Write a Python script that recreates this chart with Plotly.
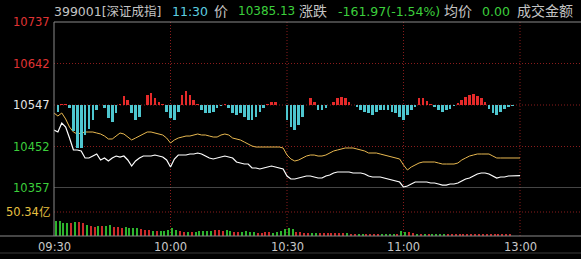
import plotly.graph_objects as go

# ---------------- data ----------------
prev_close = 10547
price_ticks = [10737, 10642, 10547, 10452, 10357]
price_tick_colors = ["#e03434", "#e03434", "#e6e6e6", "#3ccf3c", "#3ccf3c"]
vol_mid = 50.34
vol_top = 100.68
time_ticks = [0, 30, 60, 90, 120]
time_labels = ["09:30", "10:00", "10:30", "11:00", "13:00"]
x_end = 135.7

minutes = list(range(121))

price = [10489.8, 10485.2, 10505.8, 10496.6, 10471.4, 10444.0, 10444.0, 10441.7, 10425.7, 10425.7,
         10430.2, 10434.8, 10421.1, 10425.7, 10418.8, 10425.7, 10430.2, 10427.9, 10430.2, 10421.1,
         10407.3, 10418.8, 10425.7, 10430.2, 10430.2, 10430.2, 10432.5, 10430.2, 10427.9, 10421.1,
         10405.1, 10423.4, 10432.5, 10432.5, 10432.5, 10434.8, 10434.8, 10437.1, 10434.8, 10430.2,
         10425.7, 10423.4, 10425.7, 10427.9, 10430.2, 10427.9, 10425.7, 10416.5, 10414.2, 10411.9,
         10411.9, 10402.8, 10402.8, 10400.5, 10402.8, 10405.1, 10407.3, 10405.1, 10402.8, 10400.5,
         10384.5, 10377.6, 10377.6, 10379.9, 10382.2, 10384.5, 10384.5, 10382.2, 10379.9, 10379.9,
         10384.5, 10386.7, 10391.3, 10393.6, 10393.6, 10393.6, 10393.6, 10391.3, 10391.3, 10391.3,
         10389.0, 10384.5, 10382.2, 10382.2, 10382.2, 10379.9, 10377.6, 10375.3, 10373.0, 10370.7,
         10359.3, 10361.6, 10366.1, 10370.7, 10370.7, 10370.7, 10370.7, 10368.4, 10368.4, 10366.1,
         10363.8, 10363.8, 10366.1, 10366.1, 10368.4, 10373.0, 10377.6, 10379.9, 10384.5, 10389.0,
         10391.3, 10391.3, 10389.0, 10384.5, 10379.9, 10382.2, 10382.2, 10384.5, 10384.5, 10384.5,
         10385.13]

lead_line = [10528.7, 10521.8, 10528.7, 10515.0, 10496.6, 10485.2, 10480.6, 10482.9, 10485.2, 10485.2,
             10485.2, 10482.9, 10480.6, 10476.0, 10469.2, 10469.2, 10476.0, 10482.9, 10480.6, 10473.7,
             10466.9, 10471.4, 10476.0, 10480.6, 10485.2, 10485.2, 10482.9, 10480.6, 10478.3, 10471.4,
             10460.0, 10466.9, 10471.4, 10473.7, 10476.0, 10476.0, 10478.3, 10480.6, 10478.3, 10478.3,
             10476.0, 10473.7, 10473.7, 10478.3, 10480.6, 10478.3, 10471.4, 10469.2, 10466.9, 10462.3,
             10457.7, 10453.1, 10450.8, 10450.8, 10450.8, 10450.8, 10450.8, 10450.8, 10450.8, 10448.6,
             10432.5, 10423.4, 10418.8, 10421.1, 10425.7, 10430.2, 10432.5, 10432.5, 10430.2, 10430.2,
             10432.5, 10437.1, 10441.7, 10444.0, 10446.3, 10448.6, 10448.6, 10448.6, 10446.3, 10444.0,
             10441.7, 10437.1, 10437.1, 10437.1, 10434.8, 10432.5, 10430.2, 10427.9, 10425.7, 10423.4,
             10409.6, 10398.2, 10405.1, 10409.6, 10414.2, 10416.5, 10416.5, 10416.5, 10416.5, 10414.2,
             10411.9, 10411.9, 10411.9, 10411.9, 10414.2, 10421.1, 10425.7, 10430.2, 10432.5, 10434.8,
             10434.8, 10434.8, 10434.8, 10430.2, 10425.7, 10425.7, 10425.7, 10425.7, 10425.7, 10425.7,
             10425.7]

strength = [0, -7, 1, 1, -3, -26, -43, -43, -30, -24,
            -15, -5, 0, -3, -13, -17, -8, 1, 9, 5,
            -8, -15, -12, 0, 10, 12, 7, 3, 1, -7,
            -13, -15, -7, 10, 14, 10, 5, 1, -5, -8,
            -8, -7, -3, -1, 1, -3, -8, -10, -8, -12,
            -15, -15, -12, -7, -3, 1, 3, 3, 0, 0,
            -15, -22, -25, -20, -12, 0, 7, 3, -5, -5,
            -3, 0, 3, 7, 8, 7, 3, 0, -2, -5,
            -7, -8, -10, -7, -5, -5, -5, -7, -8, -12,
            -15, -10, -5, -2, 7, 7, 4, 1, -2, -5,
            -7, -5, -4, -1, 2, 5, 8, 10, 11, 9,
            7, 3, -4, -8, -10, -7, -4, -2, -1, 0,
            0]

vol_minutes = [m + 0.5 for m in range(120)]
volume = [31.5, 31.5, 27.9, 26.6, 27.9, 30.0, 30.0, 26.6, 23.1, 21.0,
          19.5, 21.0, 21.0, 21.0, 23.1, 18.2, 18.2, 16.2, 18.2, 16.2,
          16.2, 16.2, 14.1, 12.6, 12.6, 11.1, 11.1, 11.1, 11.1, 12.6,
          16.2, 12.6, 11.1, 9.0, 9.0, 9.0, 9.0, 11.1, 11.1, 10.5,
          11.1, 12.6, 12.6, 11.1, 12.6, 11.1, 9.0, 9.0, 9.0, 11.1,
          9.0, 9.0, 6.9, 6.9, 9.0, 9.0, 6.9, 9.0, 11.1, 14.1,
          16.2, 14.1, 9.0, 9.0, 6.9, 6.9, 6.9, 6.9, 5.7, 6.9,
          5.7, 5.7, 5.7, 5.7, 5.7, 5.7, 4.2, 4.2, 4.2, 4.2,
          4.2, 4.2, 4.2, 4.2, 4.2, 4.2, 4.2, 4.2, 4.2, 11.1,
          9.0, 8.4, 5.7, 4.2, 4.2, 3.6, 3.6, 4.2, 4.2, 3.6,
          3.6, 4.2, 3.6, 3.6, 4.2, 3.6, 4.2, 3.6, 4.2, 4.2,
          3.6, 3.6, 4.2, 3.6, 3.6, 4.2, 3.6, 3.6, 4.2, 4.2]
vol_dir = list("ggggrgrrgrrgrggrrrgggg" "rrrgrgggggrrgrgg"
               "gggrrrggrrggggrrrrggggggrrrrggrrrrrrrgrrggrrrrggggrg"
               "grrgrgrggggrrrrrrrrrrrrrrrrr")

header = [
    ("399001[深证成指]", 54, "#c4c4c4", 12.5),
    ("11:30", 172, "#5ccfe0", 12.5),
    ("价", 214, "#c4c4c4", 14),
    ("10385.13", 238, "#3ccf3c", 12),
    ("涨跌", 299, "#c4c4c4", 14),
    ("-161.97(-1.54%)", 338, "#3ccf3c", 12.5),
    ("均价", 444, "#c4c4c4", 14),
    ("0.00", 482, "#3ccf3c", 12.5),
    ("成交金额", 517, "#c4c4c4", 14),
]

# ---------------- figure ----------------
W, H = 581, 259
L, T, B = 54, 22, 23
plot_h = H - T - B
vol_frac = 48 / plot_h
plot_w = W - L

RED_BAR = "#e62a2a"
CYAN_BAR = "#4ec6cf"
VOL_RED = "#cc2a2a"
VOL_GREEN = "#2db42d"
GRID_RED = "#8a1c1c"
GREY = "#8a8a8a"

fig = go.Figure()

fig.add_trace(go.Bar(
    x=minutes, y=strength, yaxis="y3", width=0.68,
    marker=dict(color=[RED_BAR if v > 0 else CYAN_BAR for v in strength], line=dict(width=0)),
    hoverinfo="skip"))

fig.add_trace(go.Scatter(
    x=minutes, y=lead_line, yaxis="y", mode="lines",
    line=dict(color="#e8b850", width=1), hoverinfo="skip"))
fig.add_trace(go.Scatter(
    x=minutes, y=price, yaxis="y", mode="lines",
    line=dict(color="#ffffff", width=1.2), hoverinfo="skip"))

fig.add_trace(go.Bar(
    x=vol_minutes, y=volume, yaxis="y2", width=0.38,
    marker=dict(color=[VOL_RED if d == "r" else VOL_GREEN for d in vol_dir], line=dict(width=0)),
    hoverinfo="skip"))

shapes = []
# dotted horizontal grid (price)
for v in price_ticks[1:4]:
    shapes.append(dict(type="line", xref="paper", yref="y", x0=0, x1=1, y0=v, y1=v,
                       line=dict(color=GRID_RED, width=1, dash="1px,2px"), layer="below"))
shapes.append(dict(type="line", xref="paper", yref="y2", x0=0, x1=1, y0=vol_mid, y1=vol_mid,
                   line=dict(color=GRID_RED, width=1, dash="1px,2px"), layer="below"))
# dotted vertical grid
for t in time_ticks[1:]:
    shapes.append(dict(type="line", xref="x", yref="paper", x0=t, x1=t, y0=0, y1=1,
                       line=dict(color=GRID_RED, width=1, dash="1px,2px"), layer="below"))
# solid grey frame lines
shapes.append(dict(type="line", xref="paper", yref="paper", x0=0, x1=1, y0=1, y1=1,
                   line=dict(color=GREY, width=1)))
shapes.append(dict(type="line", xref="paper", yref="y", x0=0, x1=1, y0=price_ticks[-1], y1=price_ticks[-1],
                   line=dict(color=GREY, width=1)))
shapes.append(dict(type="line", xref="paper", yref="paper", x0=-L / plot_w, x1=1, y0=0, y1=0,
                   line=dict(color=GREY, width=1)))
shapes.append(dict(type="line", xref="paper", yref="paper", x0=0, x1=0, y0=0, y1=1,
                   line=dict(color=GREY, width=1)))
shapes.append(dict(type="line", xref="paper", yref="paper", x0=-L / plot_w, x1=1,
                   y0=-17 / plot_h, y1=-17 / plot_h, line=dict(color="#3a3a3a", width=1)))

annotations = []
for v, c in zip(price_ticks, price_tick_colors):
    annotations.append(dict(xref="paper", yref="y", x=0, y=v, xanchor="right", yanchor="middle",
                            xshift=-2, text=str(v), showarrow=False,
                            font=dict(family="DejaVu Sans", size=11.5, color=c)))
annotations.append(dict(xref="paper", yref="y2", x=0, y=vol_mid, xanchor="right", yanchor="middle",
                        xshift=-2, text=f"{vol_mid:.2f}亿", showarrow=False,
                        font=dict(family="DejaVu Sans, Noto Sans CJK SC", size=11.5, color="#e8c040")))
for t, lab in zip(time_ticks, time_labels):
    annotations.append(dict(xref="x", yref="paper", x=t, y=0, xanchor="center", yanchor="top",
                            yshift=-2, text=lab, showarrow=False,
                            font=dict(family="DejaVu Sans", size=11.5, color="#c8c8c8")))
for txt, px, col, sz in header:
    annotations.append(dict(xref="paper", yref="paper", x=0, y=1, xshift=px - L - 2, yshift=11,
                            xanchor="left", yanchor="middle", text=txt, showarrow=False,
                            font=dict(family="DejaVu Sans, Noto Sans CJK SC", size=sz, color=col)))

axis_off = dict(showgrid=False, zeroline=False, showticklabels=False, showline=False, ticks="")
fig.update_layout(
    width=W, height=H,
    margin=dict(l=L, r=0, t=T, b=B, pad=0),
    paper_bgcolor="#000000", plot_bgcolor="#000000",
    showlegend=False, barmode="overlay", bargap=0,
    xaxis=dict(range=[0, x_end], **axis_off),
    yaxis=dict(domain=[vol_frac, 1], range=[price_ticks[-1], price_ticks[0]], **axis_off),
    yaxis2=dict(domain=[0, vol_frac], range=[0, vol_top], **axis_off),
    yaxis3=dict(overlaying="y", range=[-83, 83], **axis_off),
    shapes=shapes, annotations=annotations,
)

fig.write_html("out.html", config={"displayModeBar": False})
